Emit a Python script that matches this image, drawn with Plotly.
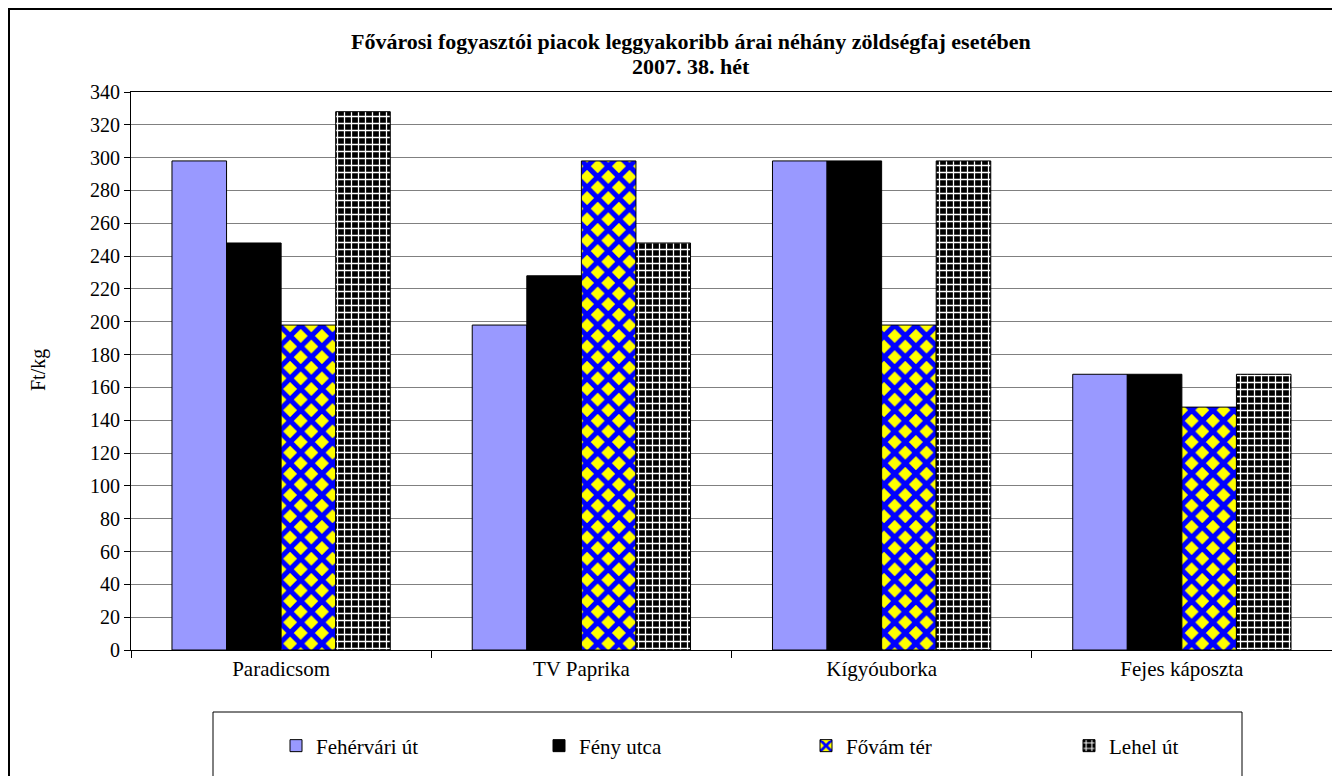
import plotly.graph_objects as go

categories = ["Paradicsom", "TV Paprika", "Kígyóuborka", "Fejes káposzta"]
series_names = ["Fehérvári út", "Fény utca", "Fővám tér", "Lehel út"]
fehervari = [298, 198, 298, 168]
feny = [248, 228, 298, 168]
fovam = [198, 298, 198, 148]
lehel = [328, 248, 298, 168]
y_ticks = list(range(0, 341, 20))

FONT = "Liberation Serif"

# page body has an 8px default margin: work in screen pixels and subtract it
OFF = 8
W, H = 1340 - OFF, 776 - OFF
L, R, T, B = 131 - OFF, 8, 92 - OFF, 776 - 650
pw = W - L - R
ph = H - T - B


def px_x(p):
    return (p - OFF - L) / pw


def px_y(p):
    return (H - B - (p - OFF)) / ph


legend_x_px = [276, 539, 806, 1069]

fig = go.Figure()
fig.add_trace(go.Bar(name=series_names[0], x=categories, y=fehervari, legend="legend",
                     marker=dict(color="#9999FF", line=dict(color="black", width=1))))
fig.add_trace(go.Bar(name=series_names[1], x=categories, y=feny, legend="legend2",
                     marker=dict(color="black", line=dict(color="black", width=1))))
fig.add_trace(go.Bar(name=series_names[2], x=categories, y=fovam, legend="legend3",
                     marker=dict(color="#0000FF", line=dict(color="black", width=1),
                                 pattern=dict(shape="x", bgcolor="#FFFF00", fgcolor="#0000FF",
                                              fgopacity=1, size=15, solidity=0.57))))
fig.add_trace(go.Bar(name=series_names[3], x=categories, y=lehel, legend="legend4",
                     marker=dict(color="black", line=dict(color="black", width=1),
                                 pattern=dict(shape="+", bgcolor="black", fgcolor="white",
                                              fgopacity=1, size=7, solidity=0.33))))

legend_common = dict(orientation="h", yanchor="middle", xanchor="left",
                     font=dict(family=FONT, size=21, color="black"),
                     bgcolor="rgba(0,0,0,0)", borderwidth=0)

layout_legends = {}
for i, lx in enumerate(legend_x_px):
    key = "legend" if i == 0 else f"legend{i + 1}"
    layout_legends[key] = dict(legend_common, x=px_x(lx), y=px_y(746))

fig.update_layout(
    width=W, height=H,
    margin=dict(l=L, r=R, t=T, b=B, autoexpand=False),
    paper_bgcolor="white", plot_bgcolor="white",
    barmode="group", bargap=0.273, bargroupgap=0,
    font=dict(family=FONT, size=20, color="black"),
    showlegend=True,
    xaxis=dict(type="category", showline=True, linecolor="black", linewidth=1, mirror=True,
               ticks="outside", tickson="boundaries", ticklen=7, tickcolor="black",
               tickfont=dict(family=FONT, size=21), showgrid=False, automargin=False),
    yaxis=dict(range=[0, 340], tickvals=y_ticks, showline=True, linecolor="black", linewidth=1,
               mirror=True, ticks="outside", ticklen=6, tickcolor="black",
               showgrid=True, gridcolor="#808080", gridwidth=1, zeroline=False,
               tickfont=dict(family=FONT, size=20), automargin=False),
    shapes=[
        dict(type="rect", xref="paper", yref="paper", x0=px_x(9), x1=px_x(1345), y0=px_y(790),
             y1=px_y(9), line=dict(color="black", width=2), fillcolor="rgba(0,0,0,0)", layer="below"),
        dict(type="rect", xref="paper", yref="paper", x0=px_x(213), x1=px_x(1242), y0=px_y(790),
             y1=px_y(712), line=dict(color="black", width=1), fillcolor="rgba(0,0,0,0)"),
    ],
    annotations=[
        dict(text="<b>Fővárosi fogyasztói piacok leggyakoribb árai néhány zöldségfaj esetében</b>",
             xref="paper", yref="paper", x=px_x(691), y=px_y(42), xanchor="center", yanchor="middle",
             showarrow=False, font=dict(family=FONT, size=22)),
        dict(text="<b>2007. 38. hét</b>",
             xref="paper", yref="paper", x=px_x(691), y=px_y(67), xanchor="center", yanchor="middle",
             showarrow=False, font=dict(family=FONT, size=22)),
        dict(text="Ft/kg", textangle=-90,
             xref="paper", yref="paper", x=px_x(38), y=px_y(370), xanchor="center", yanchor="middle",
             showarrow=False, font=dict(family=FONT, size=20)),
    ],
    **layout_legends,
)

fig.write_html("out.html")
